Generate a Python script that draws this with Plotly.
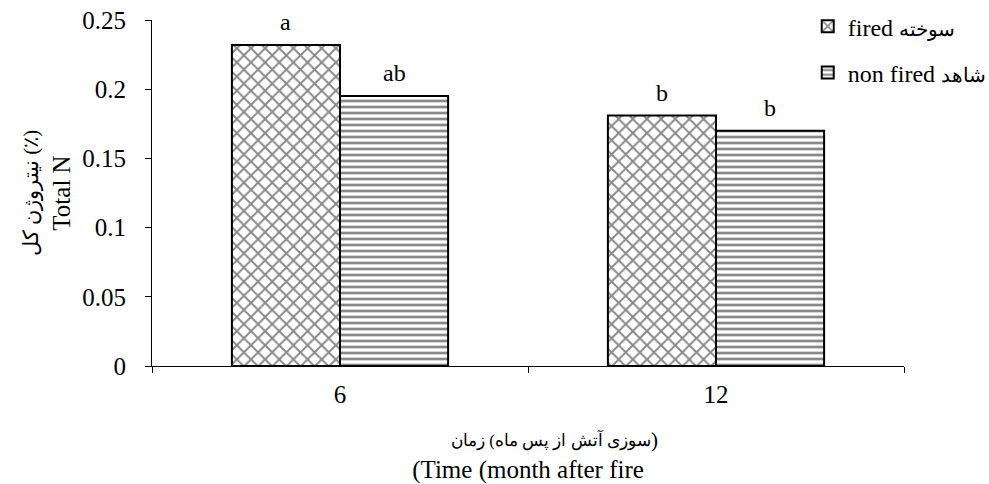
import plotly.graph_objects as go

categories = ["6", "12"]
fired = [0.232, 0.181]
non_fired = [0.195, 0.170]
fired_letters = ["a", "b"]
non_fired_letters = ["ab", "b"]
y_ticks = [0, 0.05, 0.1, 0.15, 0.2, 0.25]
# Persian x-title line, given in the order that a right-to-left run shows as
# "زمان (ماه پس از آتش سوزی)"; its closing bracket is a separate text piece
xtitle_fa_body = "سوزی آتش از پس ماه) زمان"
xtitle_fa_close = ")"
xtitle_en = "(Time (month after fire"
ytitle_fa = "نیتروژن کل (٪)"
ytitle_en = "Total N"
legend_fa = ["سوخته", "شاهد"]
legend_en = ["fired", "non fired"]

FONT = "Liberation Serif, Times New Roman, serif"


def fa(txt, size):
    return '<span style="font-size:%dpx">%s</span>' % (size, txt)


bargap = 0.425
bar_w = (1 - bargap) / 2

fig = go.Figure()
fig.add_trace(go.Bar(
    x=categories, y=fired, name=legend_en[0] + " " + fa(legend_fa[0], 20), legendgroup="g1",
    marker=dict(color="white", line=dict(color="black", width=2),
                pattern=dict(shape="x", size=10, solidity=0.35, fgcolor="#111111", bgcolor="white")),
))
fig.add_trace(go.Bar(
    x=categories, y=non_fired, name=legend_en[1] + " " + fa(legend_fa[1], 20), legendgroup="g2",
    marker=dict(color="white", line=dict(color="black", width=2),
                pattern=dict(shape="-", size=6, solidity=0.45, fgcolor="#111111", bgcolor="white")),
))

annotations = []
for i, (v, t) in enumerate(zip(fired, fired_letters)):
    annotations.append(dict(x=i - bar_w / 2, y=v, text=t, showarrow=False, yanchor="bottom",
                            yshift=8, font=dict(family=FONT, size=24, color="black")))
for i, (v, t) in enumerate(zip(non_fired, non_fired_letters)):
    annotations.append(dict(x=i + bar_w / 2, y=v, text=t, showarrow=False, yanchor="bottom",
                            yshift=8, font=dict(family=FONT, size=24, color="black")))

# Persian line of the x-axis title: body right-anchored, closing bracket left-anchored at the same point
XJOIN = 0.663
annotations.append(dict(x=XJOIN, y=-0.214, xref="paper", yref="paper", xanchor="right", yanchor="middle",
                        text=xtitle_fa_body, showarrow=False, xshift=2,
                        font=dict(family=FONT, size=17, color="black")))
annotations.append(dict(x=XJOIN, y=-0.214, xref="paper", yref="paper", xanchor="left", yanchor="middle",
                        text=xtitle_fa_close, showarrow=False, xshift=-2,
                        font=dict(family=FONT, size=21, color="black")))

fig.update_layout(
    width=989, height=484,
    margin=dict(l=152, r=85, t=20, b=118, autoexpand=False),
    paper_bgcolor="white", plot_bgcolor="white",
    barmode="group", bargap=bargap, bargroupgap=0,
    font=dict(family=FONT, size=25, color="black"),
    showlegend=True,
    legend=dict(x=0.872, y=1.046, xanchor="left", yanchor="top", tracegroupgap=12,
                font=dict(family=FONT, size=24), bgcolor="rgba(0,0,0,0)",
                itemwidth=30),
    annotations=annotations,
    xaxis=dict(
        type="category", showline=True, linecolor="black", linewidth=1,
        ticks="outside", tickson="boundaries", ticklen=6, tickcolor="black",
        showgrid=False, tickfont=dict(family=FONT, size=25), ticklabelstandoff=6,
        title=dict(text=xtitle_en, standoff=54, font=dict(family=FONT, size=25)),
    ),
    yaxis=dict(
        range=[0, 0.25], tickvals=y_ticks, showline=True, linecolor="black", linewidth=1,
        ticks="outside", ticklen=6, tickcolor="black", showgrid=False, zeroline=False,
        tickfont=dict(family=FONT, size=25), ticklabelstandoff=14,
        title=dict(text=fa(ytitle_fa, 21) + "<br>" + ytitle_en, standoff=4,
                   font=dict(family=FONT, size=25)),
    ),
)

fig.write_html("out.html", config={"displayModeBar": False},
               post_script="document.body.style.margin='0';")
